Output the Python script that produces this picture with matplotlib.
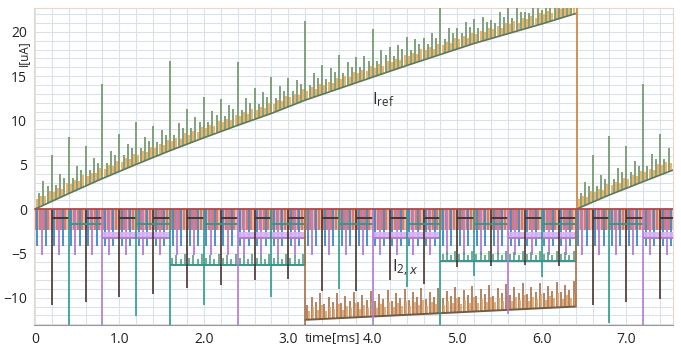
import numpy as np
import matplotlib.pyplot as plt

plt.rcParams['font.family'] = ['Open Sans', 'DejaVu Sans']

# ---- I_ref (upper trace) ----
ramp1_t = [0.0, 0.4, 0.8, 1.2, 1.6, 2.0, 2.4, 2.8, 3.2, 3.6, 4.0, 4.4, 4.8, 5.2, 5.6, 6.0, 6.41]
ramp1_v = [0.0, 1.75, 3.45, 5.05, 6.6, 8.05, 9.45, 10.8, 12.3, 13.6, 14.9, 16.2, 17.45, 18.7, 19.8, 20.9, 22.1]
ramp2_t = [6.41, 6.8, 7.2, 7.55]
ramp2_v = [0.0, 1.6, 3.1, 4.4]

big_t = [0.2, 0.4, 0.6, 0.8, 1.0, 1.2, 1.4, 1.6, 1.8, 2.0, 2.2, 2.4, 2.6, 2.8, 3.0, 3.2,
         3.4, 3.6, 3.8, 4.0, 4.2, 4.4, 4.6, 4.8, 5.0, 5.2, 5.4, 5.6, 5.8, 6.0, 6.2,
         6.6, 6.8, 7.0, 7.2, 7.4]
big_top = [6.1, 8.1, 7.1, 14.1, 8.5, 9.8, 9.4, 16.7, 11.3, 12.6, 12.4, 16.6, 13.7, 14.9, 14.8, 21.2,
           16.3, 17.4, 17.2, 20.3, 18.3, 19.4, 19.3, 22.8, 20.4, 21.4, 21.3, 22.8, 22.2, 22.5, 22.8,
           6.1, 8.2, 7.1, 14.1, 8.5]
step_starts = [0.0, 0.2, 0.4, 0.6, 0.8, 1.0, 1.2, 1.4, 1.6, 1.8, 2.0, 2.2, 2.4, 2.6, 2.8, 3.0,
               3.2, 3.4, 3.6, 3.8, 4.0, 4.2, 4.4, 4.6, 4.8, 5.0, 5.2, 5.4, 5.6, 5.8, 6.0, 6.2,
               6.41, 6.6, 6.8, 7.0, 7.2, 7.4]
small_dt = [0.05, 0.10, 0.15]
small_off = [1.6, 2.7, 2.0]
tiny_dt = [0.025, 0.075, 0.125, 0.175]
tiny_off = [1.0, 1.2, 0.9, 1.3]

# ---- I_2,x (lower traces) ----
red_depth = -2.4
blue_depth = -4.2
purple_depth = -5.2

b1_start = [0.2, 0.6, 1.0, 1.4, 1.8, 2.2, 2.6, 3.0, 3.4, 3.8, 4.2, 4.6, 5.0, 5.4, 5.8, 6.2, 6.6, 7.0, 7.4]
b1_depth = [-10.8, -10.5, -9.9, -9.6, -8.9, -8.6, -8.0, -7.9, -9.3, -9.2, -8.0, -8.5, -6.5, -6.4, -6.3, -6.4,
            -10.8, -10.5, -10.1]
b1_level = -1.0

b2_start = [0.4, 1.2, 2.0, 2.8, 3.6, 4.4, 5.2, 6.0, 6.8]
b2_depth = [-13.1, -12.1, -10.8, -9.9, -9.0, -8.8, -7.6, -7.7, -12.9]
b2_level = -1.7

b3_start = [0.8, 2.4, 4.0, 5.6, 7.2]
b3_depth = [-13.1, -13.1, -13.1, -11.8, -13.1]
b3_band = (-2.6, -3.3)

b4_start = [1.6, 4.8]
b4_level = [-6.3, -5.9]
b4_spike = [0.8, 1.1, 0.7, 1.2]

b5_t = [3.2, 6.4]
b5_base = [-12.5, -11.0]
b5_spike = [1.7, 2.5, 1.9, 2.9]

x_end = 7.55
ybot, ytop = -13.1, 22.7

fig = plt.figure(figsize=(6.81, 3.47), dpi=100)
ax = fig.add_axes([0.050, 0.063, 0.938, 0.914])

c_green = '#7a9a74'
c_orange = '#f2ac58'
c_ramp = '#5d7a52'
c_red = '#dd7a62'
c_blue = '#3d87d0'
c_purple = '#b47ad6'
c_dark = '#4a3530'
c_teal = '#2f9a8c'
c_brown = '#a87048'


def ref_base(t):
    if t < 6.41:
        return np.interp(t, ramp1_t, ramp1_v)
    return np.interp(t, ramp2_t, ramp2_v)


# ---------- I_ref ----------
for t0 in step_starts:
    for dt, off in zip(tiny_dt, tiny_off):
        t = t0 + dt
        if t < x_end:
            b = ref_base(t)
            ax.vlines(t, b, b + off, color=c_orange, lw=1.3, zorder=3)
    for dt, off in zip(small_dt, small_off):
        t = t0 + dt
        if t < x_end:
            b = ref_base(t)
            ax.vlines(t, b, b + off, color=c_green, lw=1.3, zorder=3)

for t, top in zip(big_t, big_top):
    b = ref_base(t)
    ax.vlines(t, b, top, color=c_green, lw=1.3, zorder=3)

ax.plot(ramp1_t, ramp1_v, color=c_ramp, lw=1.2, zorder=4)
ax.plot(ramp2_t, ramp2_v, color=c_ramp, lw=1.2, zorder=4)
ax.vlines(6.41, 0, ytop, color='#d08a4a', lw=1.3, zorder=4)

# ---------- I_2,x ----------
t_red = np.arange(0.01, x_end, 0.05)
ax.fill_between([0, x_end], 0, red_depth, color='#eea593', alpha=0.75, lw=0, zorder=1.5)
ax.vlines(t_red, red_depth, 0, color=c_red, lw=1.6, zorder=2)

t_blue = np.arange(0.03, x_end, 0.1)
ax.vlines(t_blue, blue_depth, 0, color=c_blue, lw=1.3, zorder=2.5)
t_purp = np.arange(0.08, x_end, 0.2)
ax.vlines(t_purp, purple_depth, 0, color=c_purple, lw=1.3, zorder=2.5)

# bit 1 (dark): short level plus long spike
for t0, d in zip(b1_start, b1_depth):
    ax.hlines(b1_level, t0, min(t0 + 0.2, x_end), color=c_dark, lw=1.4, zorder=5)
    ax.vlines(t0, d, 0, color=c_dark, lw=1.2, zorder=5)

# bit 2 (teal)
for t0, d in zip(b2_start, b2_depth):
    ax.hlines(b2_level, t0, min(t0 + 0.4, x_end), color=c_teal, lw=1.4, zorder=5)
    ax.vlines(t0, d, 0, color=c_teal, lw=1.2, zorder=5)

# bit 3 (purple band)
for t0, d in zip(b3_start, b3_depth):
    t1 = min(t0 + 0.8, x_end)
    ax.fill_between([t0, t1], b3_band[0], b3_band[1], color='#d6b4ee', alpha=0.9, lw=0, zorder=3)
    ax.hlines(b3_band[1], t0, t1, color=c_purple, lw=1.4, zorder=3.5)
    ax.vlines(t0, d, 0, color=c_purple, lw=1.2, zorder=5)

# bit 4 (teal level with ripple)
for t0, lev in zip(b4_start, b4_level):
    t1 = t0 + 1.6
    ts = np.arange(t0 + 0.025, t1, 0.05)
    for i, t in enumerate(ts):
        ax.vlines(t, lev, lev + b4_spike[i % 4], color='#5f9a7e', lw=1.2, zorder=4)
    ax.hlines(lev, t0, t1, color=c_teal, lw=1.4, zorder=4.5)
    ax.vlines(t0, ybot, 0, color=c_teal, lw=1.2, zorder=5)
    ax.vlines(t1, lev, 0, color=c_teal, lw=1.1, zorder=4)

# bit 5 (brown level with ripple)
ts = np.arange(b5_t[0] + 0.025, b5_t[1], 0.05)
for i, t in enumerate(ts):
    base = np.interp(t, b5_t, b5_base)
    ax.vlines(t, base, base + b5_spike[i % 4], color=c_brown, lw=1.2, zorder=4)
    ax.vlines(t + 0.02, base, base + b5_spike[i % 4] * 0.55, color='#e0a060', lw=1.2, zorder=4)
ax.plot(b5_t, b5_base, color='#7a5a3a', lw=1.4, zorder=4.5)
ax.vlines(b5_t[0], ybot, 0, color=c_brown, lw=1.2, zorder=5)
ax.vlines(b5_t[1], b5_base[1], 0, color=c_brown, lw=1.2, zorder=5)

ax.hlines(0, 0, x_end, color='#b04a44', lw=1.3, zorder=5)

# ---------- labels ----------
ax.text(4.12, 12.3, r'$\mathregular{I_{ref}}$', fontsize=12, color='#303030', ha='center', va='center', zorder=6)
ax.text(4.38, -6.7, r'$\mathregular{I_{2,}}$' + r'$_{x}$', fontsize=12, color='#303030',
        ha='center', va='center', zorder=6)

ax.set_xlim(-0.01, x_end)
ax.set_ylim(ybot, ytop)
ax.set_xticks([0, 1, 2, 3, 4, 5, 6, 7])
ax.set_xticklabels(['0', '1.0', '2.0', '3.0', '4.0', '5.0', '6.0', '7.0'])
ax.set_yticks([-10, -5, 0, 5, 10, 15, 20])
ax.set_xticks(np.arange(0, x_end, 0.2), minor=True)
ax.set_yticks(np.arange(-13, 23, 1), minor=True)
ax.grid(True, which='both', color='#d9e2ec', lw=0.8, zorder=0)
ax.set_axisbelow(True)
ax.tick_params(which='both', length=0, labelsize=10, colors='#222222', pad=5)
for s in ['top', 'right', 'left']:
    ax.spines[s].set_color('#e8d8c8')
ax.spines['bottom'].set_color('#999999')

ax.text(3.52, -0.038, 'time[ms]', transform=ax.get_xaxis_transform(), fontsize=9.5,
        ha='center', va='center', color='#222222')
ax.text(-0.017, 0.858, 'I[uA]', transform=ax.transAxes, rotation=90, fontsize=8.5,
        ha='center', va='center', color='#222222')

fig.savefig('out.png', dpi=100)
